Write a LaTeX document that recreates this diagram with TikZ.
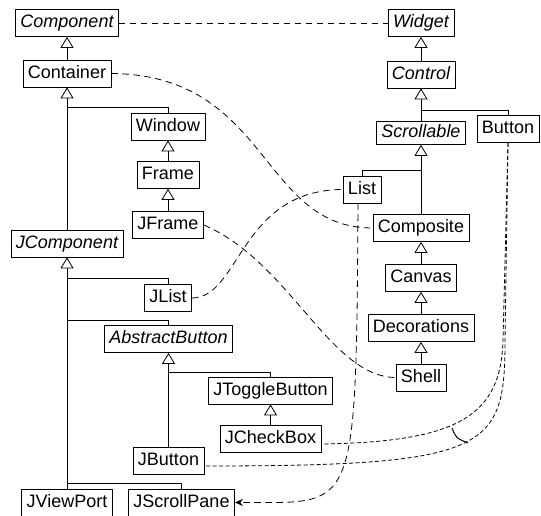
\documentclass[tikz,border=0pt]{standalone}
\usepackage{fontspec}
\setmainfont{Liberation Sans}
\usetikzlibrary{arrows.meta,calc}
\begin{document}
\begin{tikzpicture}[x=1pt,y=-1pt,
  cls/.style={draw,line width=0.8pt,inner xsep=5pt,inner ysep=0pt,minimum height=27pt,
    text height=13pt,text depth=3.5pt,font=\fontsize{18}{21}\selectfont},
  acls/.style={cls,font=\fontsize{18}{21}\selectfont\itshape},
  inh/.style={line width=0.8pt,-{Triangle[open,length=11pt,width=13pt]}},
  lnk/.style={line width=0.8pt},
  dsh/.style={line width=0.8pt,dash pattern=on 6.5pt off 4.5pt},
  dshf/.style={line width=0.8pt,dash pattern=on 4pt off 2.5pt}]
\useasboundingbox (0,0) rectangle (541,516);
% left column
\node[acls] (Component) at (67,23) {Component};
\node[cls] (Container) at (67,73.5) {Container};
\node[cls] (Window) at (168,126.5) {Window};
\node[cls] (Frame) at (168,175) {Frame};
\node[cls] (JFrame) at (168,225) {JFrame};
\node[acls] (JComponent) at (67,243.5) {JComponent};
\node[cls] (JList) at (168,298) {JList};
\node[acls] (AbstractButton) at (168.5,339) {AbstractButton};
\node[cls] (JToggleButton) at (270.5,390.5) {JToggleButton};
\node[cls] (JCheckBox) at (270.5,438.5) {JCheckBox};
\node[cls] (JButton) at (168.5,460.5) {JButton};
\node[cls] (JViewPort) at (67,502.5) {JViewPort};
\node[cls] (JScrollPane) at (181.5,502.5) {JScrollPane};
% right column
\node[acls] (Widget) at (421,23) {Widget};
\node[acls] (Control) at (421,74.5) {Control};
\node[acls,minimum height=23pt] (Scrollable) at (421,133) {Scrollable};
\node[cls] (Button) at (508,129) {Button};
\node[cls] (List) at (362,189.5) {List};
\node[cls] (Composite) at (421,228) {Composite};
\node[cls] (Canvas) at (421,278) {Canvas};
\node[cls] (Decorations) at (421,328) {Decorations};
\node[cls] (Shell) at (421,377.5) {Shell};
% junctions
\coordinate (jCont) at (67,107);
\coordinate (jJC1) at (67,278);
\coordinate (jJC2) at (67,320);
\coordinate (jJC3) at (67,483);
\coordinate (jAB) at (168.5,372);
\coordinate (jCtl) at (421,110);
\coordinate (jScr) at (421,170);
% inheritance
\draw[inh] (Container.north) -- (Component.south);
\draw[inh] (JComponent.north) -- (Container.south);
\draw[lnk] (Window.north) |- (jCont);
\draw[inh] (Frame.north) -- (Window.south);
\draw[inh] (JFrame.north) -- (Frame.south);
\draw[inh] (JViewPort.north) -- (JComponent.south);
\draw[lnk] (JList.north -| AbstractButton.north) |- (jJC1);
\draw[lnk] (AbstractButton.north) |- (jJC2);
\draw[lnk] (JScrollPane.north) |- (jJC3);
\draw[inh] (JButton.north) -- (AbstractButton.south);
\draw[lnk] (JToggleButton.north) |- (jAB);
\draw[inh] (JCheckBox.north) -- (JToggleButton.south);
\draw[inh] (Control.north) -- (Widget.south);
\draw[inh] (Scrollable.north) -- (Control.south);
\draw[lnk] (Button.north) |- (jCtl);
\draw[inh] (Composite.north) -- (Scrollable.south);
\draw[lnk] (List.north) |- (jScr);
\draw[inh] (Canvas.north) -- (Composite.south);
\draw[inh] (Decorations.north) -- (Canvas.south);
\draw[inh] (Shell.north) -- (Decorations.south);
% dashed associations
\draw[dsh] (Component.east) -- (Widget.west);
\draw[dsh] (Container.east) .. controls (270,75) and (260,228) .. (Composite.west);
\draw[dsh] (JFrame.east) .. controls (290,262) and (330,377) .. (Shell.west);
\draw[dsh] (JList.east) .. controls (240,298) and (240,190) .. (List.west);
\draw[dsh,-{Stealth[length=8pt,width=7pt]}] ([xshift=-4pt]List.south) .. controls (356,520) and (356,502) .. (JScrollPane.east);
\draw[dshf] (Button.south) -- (503,340) .. controls (501,415) and (460,442) .. ($(JCheckBox.east)+(0,5.5)$);
\draw[dshf] (Button.south) -- (505,340) .. controls (505,450) and (490,466) .. ($(JButton.east)+(0,5.5)$);
\draw[line width=1pt] (452,428) .. controls (456,438) .. (468,443);
\end{tikzpicture}
\end{document}
